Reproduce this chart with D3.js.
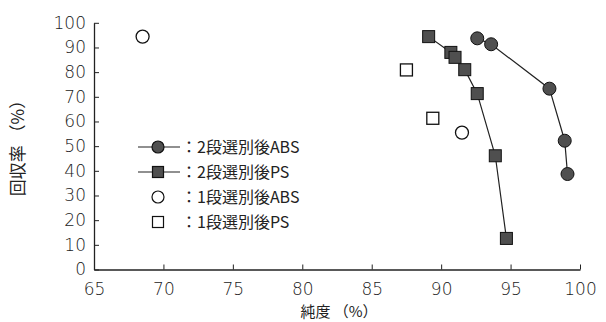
<!DOCTYPE html>
<html>
<head>
<meta charset="utf-8">
<script src="https://cdn.jsdelivr.net/npm/d3@7"></script>
<style>
body { margin: 0; background: #fff; }
text { font-family: "Noto Sans CJK JP", "Noto Sans", sans-serif; fill: #222; }
</style>
</head>
<body>
<script>
var w = 606;
var h = 322;

// 2段選別後ABS
var abs2Purity = [92.6, 93.6, 97.8, 98.9, 99.1];
var abs2Recovery = [93.7, 91.3, 73.3, 52.2, 38.7];
// 2段選別後PS
var ps2Purity = [89.1, 90.7, 91.0, 91.7, 92.6, 93.9, 94.7];
var ps2Recovery = [94.4, 88.0, 86.0, 81.0, 71.3, 46.1, 12.6];
// 1段選別後ABS
var abs1Purity = [68.5, 91.5];
var abs1Recovery = [94.4, 55.5];
// 1段選別後PS
var ps1Purity = [87.5, 89.4];
var ps1Recovery = [80.9, 61.3];

var xTicks = [65, 70, 75, 80, 85, 90, 95, 100];
var yTicks = [0, 10, 20, 30, 40, 50, 60, 70, 80, 90, 100];
var legendLabels = ["：2段選別後ABS", "：2段選別後PS", "：1段選別後ABS", "：1段選別後PS"];

function zip(a, b) {
    return a.map(function(d, i) { return { x: d, y: b[i] }; });
}

var svg = d3.select("body")
    .append("svg")
    .attr("width", w)
    .attr("height", h);

var xScale = d3.scaleLinear()
    .domain([65, 100])
    .range([94, 580]);

var yScale = d3.scaleLinear()
    .domain([0, 100])
    .range([269.5, 22.8]);

// axes, ticks point inward
var xAxis = d3.axisBottom(xScale).tickValues(xTicks).tickSizeInner(-5).tickSizeOuter(0).tickPadding(7);
var yAxis = d3.axisLeft(yScale).tickValues(yTicks).tickSizeInner(-5).tickSizeOuter(0).tickPadding(8);

var gx = svg.append("g")
    .attr("transform", "translate(0," + yScale(0) + ")")
    .call(xAxis);
var gy = svg.append("g")
    .attr("transform", "translate(" + xScale(65) + ",0)")
    .call(yAxis);

[gx, gy].forEach(function(g) {
    g.select(".domain").attr("stroke", "#222").attr("stroke-width", 1.3);
    g.selectAll(".tick line").attr("stroke", "#222");
    g.selectAll(".tick text")
        .attr("font-size", 17)
        .attr("font-weight", 200)
        .style("font-family", "'DejaVu Sans', sans-serif")
        .attr("fill", "#222");
});
gx.selectAll(".tick text").attr("dy", 18.5);

// axis titles
svg.append("text")
    .attr("x", 339)
    .attr("y", 317)
    .attr("text-anchor", "middle")
    .attr("font-size", 15)
    .text("純度 （%）");

svg.append("text")
    .attr("transform", "translate(24," + 144 + ") rotate(-90)")
    .attr("text-anchor", "middle")
    .attr("font-size", 17)
    .text("回収率 （%）");

var line = d3.line()
    .x(function(d) { return xScale(d.x); })
    .y(function(d) { return yScale(d.y); });

var fillDark = "#4f4f4f";

// 2段 lines
svg.append("path")
    .datum(zip(ps2Purity, ps2Recovery))
    .attr("d", line)
    .attr("fill", "none")
    .attr("stroke", "#222")
    .attr("stroke-width", 1.2);

svg.append("path")
    .datum(zip(abs2Purity, abs2Recovery))
    .attr("d", line)
    .attr("fill", "none")
    .attr("stroke", "#222")
    .attr("stroke-width", 1.2);

var sq = 12;

svg.selectAll(".ps2")
    .data(zip(ps2Purity, ps2Recovery))
    .enter()
    .append("rect")
    .attr("x", function(d) { return xScale(d.x) - sq / 2; })
    .attr("y", function(d) { return yScale(d.y) - sq / 2; })
    .attr("width", sq)
    .attr("height", sq)
    .attr("fill", fillDark)
    .attr("stroke", "#111")
    .attr("stroke-width", 1);

svg.selectAll(".abs2")
    .data(zip(abs2Purity, abs2Recovery))
    .enter()
    .append("circle")
    .attr("cx", function(d) { return xScale(d.x); })
    .attr("cy", function(d) { return yScale(d.y); })
    .attr("r", 6.5)
    .attr("fill", fillDark)
    .attr("stroke", "#111")
    .attr("stroke-width", 1);

svg.selectAll(".abs1")
    .data(zip(abs1Purity, abs1Recovery))
    .enter()
    .append("circle")
    .attr("cx", function(d) { return xScale(d.x); })
    .attr("cy", function(d) { return yScale(d.y); })
    .attr("r", 6.5)
    .attr("fill", "#fff")
    .attr("stroke", "#111")
    .attr("stroke-width", 1.3);

svg.selectAll(".ps1")
    .data(zip(ps1Purity, ps1Recovery))
    .enter()
    .append("rect")
    .attr("x", function(d) { return xScale(d.x) - sq / 2; })
    .attr("y", function(d) { return yScale(d.y) - sq / 2; })
    .attr("width", sq)
    .attr("height", sq)
    .attr("fill", "#fff")
    .attr("stroke", "#111")
    .attr("stroke-width", 1.3);

// legend
var lg = svg.append("g");
var legendY = [147, 172, 197, 222];
var symX = 158;

legendLabels.forEach(function(label, i) {
    var y = legendY[i];
    if (i < 2) {
        lg.append("line")
            .attr("x1", 138).attr("x2", 180)
            .attr("y1", y).attr("y2", y)
            .attr("stroke", "#222").attr("stroke-width", 1.2);
    }
    if (i % 2 === 0) {
        lg.append("circle")
            .attr("cx", symX).attr("cy", y).attr("r", 6)
            .attr("fill", i < 2 ? fillDark : "#fff")
            .attr("stroke", "#111").attr("stroke-width", 1.2);
    } else {
        lg.append("rect")
            .attr("x", symX - 5.5).attr("y", y - 5.5)
            .attr("width", 11).attr("height", 11)
            .attr("fill", i < 2 ? fillDark : "#fff")
            .attr("stroke", "#111").attr("stroke-width", 1.2);
    }
    lg.append("text")
        .attr("x", 181)
        .attr("y", y)
        .attr("dy", "0.35em")
        .attr("font-size", 16)
        .text(label);
});
</script>
</body>
</html>
